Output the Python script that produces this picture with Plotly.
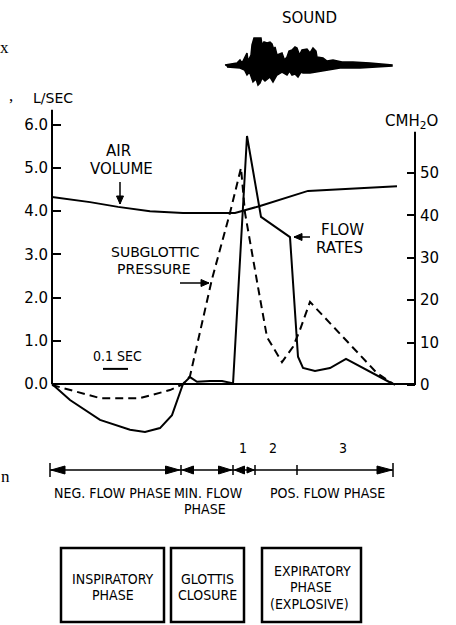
import plotly.graph_objects as go

# ---------------- data (time in seconds) ----------------
vol_t = [0, 0.152, 0.264, 0.392, 0.524, 0.732, 0.832, 1.024, 1.38]
air_volume = [4.33, 4.21, 4.10, 4.00, 3.96, 3.96, 4.12, 4.47, 4.58]          # L/SEC scale

flow_t = [0, 0.072, 0.192, 0.312, 0.372, 0.432, 0.48, 0.512, 0.524, 0.552, 0.58, 0.632,
          0.68, 0.72, 0.724, 0.78, 0.836, 0.952, 0.964, 0.984, 1.004, 1.052, 1.112, 1.176, 1.364]
flow_rate = [0, -0.37, -0.83, -1.06, -1.11, -1.02, -0.72, -0.21, 0, 0.16, 0.05, 0.07,
             0.07, 0.02, 0, 5.74, 3.87, 3.40, 2.41, 0.63, 0.37, 0.30, 0.37, 0.58, 0]       # L/SEC

press_t = [0, 0.192, 0.352, 0.472, 0.524, 0.552, 0.64, 0.712, 0.756, 0.772, 0.824, 0.86,
           0.92, 0.964, 0.992, 1.032, 1.30, 1.372]
subglottic = [0, -3.1, -3.1, -1.2, 0.2, 2.1, 25, 40.6, 51.2, 40.6, 23.1, 11.3,
              5.4, 9.0, 13, 19.6, 2.8, 0]                                        # CMH2O

snd_up_t = [0.692, 0.740, 0.752, 0.760, 0.772, 0.780, 0.784, 0.796, 0.800, 0.808, 0.836,
            0.840, 0.848, 0.860, 0.872, 0.880, 0.888, 0.892, 0.900, 0.920, 0.930, 0.940,
            0.948, 0.960, 0.972, 0.980, 0.990, 1.000, 1.020, 1.032, 1.044, 1.056, 1.060,
            1.084, 1.100, 1.124, 1.160, 1.204, 1.272, 1.360]
snd_up = [0, 2, 5, 2, 8, 12, 4, 10, 20, 27, 27, 20, 23, 22, 23, 21, 15, 18, 10, 12, 5, 8,
          14, 15, 18, 17, 10, 15, 16, 12, 17, 14, 8, 7, 4, 5, 3, 3, 2, 0]
snd_lo_t = [0.700, 0.752, 0.770, 0.780, 0.790, 0.804, 0.816, 0.824, 0.832, 0.840, 0.852,
            0.860, 0.872, 0.884, 0.892, 0.900, 0.920, 0.940, 0.950, 0.960, 0.972, 0.984,
            0.996, 1.004, 1.032, 1.060, 1.100, 1.152, 1.232, 1.360]
snd_lo = [-2, -3, -5, -10, -7, -17, -14, -20, -18, -13, -16, -15, -12, -17, -14, -10, -7,
          -10, -6, -10, -9, -12, -7, -8, -8, -7, -5, -3, -3, -1]

left_ticks = [0, 1, 2, 3, 4, 5, 6]
left_labels = ["0.0", "1.0", "2.0", "3.0", "4.0", "5.0", "6.0"]
right_ticks = [0, 10, 20, 30, 40, 50]
right_labels = ["0", "10", "20", "30", "40", "50"]

phase_edges = [-0.008, 0.516, 0.724, 0.812, 0.98, 1.364]
phase_nums = ["1", "2", "3"]
phase_num_t = [0.764, 0.884, 1.164]

# ---------------- layout helpers ----------------
W, H = 456, 625
def PX(x): return x / W
def PY(y): return 1 - y / H

T0_PX, PX_PER_S = 52, 250.0
def tpx(px): return (px - T0_PX) / PX_PER_S

FONT = "DejaVu Sans, Open Sans, sans-serif"
NARROW = "DejaVu Sans Condensed, Liberation Sans Narrow, Roboto Condensed, DejaVu Sans, sans-serif"

fig = go.Figure()

line = dict(color="black", width=2)
fig.add_trace(go.Scatter(x=vol_t, y=air_volume, mode="lines", line=line, xaxis="x", yaxis="y"))
fig.add_trace(go.Scatter(x=flow_t, y=flow_rate, mode="lines", line=line, xaxis="x", yaxis="y"))
fig.add_trace(go.Scatter(x=press_t, y=subglottic, mode="lines",
                         line=dict(color="black", width=2, dash="8px,5px"), xaxis="x", yaxis="y2"))
# sound envelope
fig.add_trace(go.Scatter(x=snd_up_t + snd_lo_t[::-1], y=snd_up + snd_lo[::-1], mode="lines",
                         fill="toself", fillcolor="black", line=dict(color="black", width=1.5),
                         xaxis="x", yaxis="y3"))
# 0.1 sec scale bar
fig.add_trace(go.Scatter(x=[0.204, 0.304], y=[0.35, 0.35], mode="lines", line=line,
                         xaxis="x", yaxis="y"))

dom_top, dom_bot = 105, 440
fig.update_layout(
    width=W, height=H, autosize=False, showlegend=False,
    margin=dict(l=0, r=0, t=0, b=0),
    paper_bgcolor="white", plot_bgcolor="white",
    xaxis=dict(domain=[PX(40), PX(432)], range=[tpx(40), tpx(432)], visible=False),
    yaxis=dict(domain=[PY(dom_bot), PY(dom_top)],
               range=[(384 - dom_bot) / 43.2, (384 - dom_top) / 43.2],
               anchor="free", position=PX(52), tickvals=left_ticks, ticktext=left_labels,
               ticks="inside", ticklen=8, tickwidth=2, tickcolor="black",
               showgrid=False, zeroline=False, showline=False, ticklabelstandoff=4,
               tickfont=dict(family=FONT, size=15, color="black")),
    yaxis2=dict(domain=[PY(dom_bot), PY(dom_top)], overlaying="y", side="right",
                range=[(385 - dom_bot) / 4.24, (385 - dom_top) / 4.24],
                anchor="free", position=PX(415), tickvals=right_ticks, ticktext=right_labels,
                ticks="inside", ticklen=8, tickwidth=2, tickcolor="black",
                showgrid=False, zeroline=False, showline=False, ticklabelstandoff=4,
                tickfont=dict(family=FONT, size=15, color="black")),
    yaxis3=dict(domain=[PY(95), PY(25)], range=[-30, 40], anchor="x", visible=False),
)

shapes = []
# axes lines and zero baseline
shapes.append(dict(type="line", xref="x", yref="y", x0=0, x1=0, y0=0, y1=6.35, line=dict(color="black", width=2)))
shapes.append(dict(type="line", xref="x", yref="y2", x0=tpx(415), x1=tpx(415), y0=0, y1=59.7, line=dict(color="black", width=2)))
shapes.append(dict(type="line", xref="x", yref="y", x0=0, x1=tpx(415), y0=0, y1=0, line=dict(color="black", width=2)))

# phase arrow row
yr = PY(470)
def ypx(d): return PY(470 + d)
shapes.append(dict(type="line", xref="x", yref="paper", x0=phase_edges[0], x1=phase_edges[-1], y0=yr, y1=yr,
                   line=dict(color="black", width=1.5)))
for i, e in enumerate(phase_edges):
    h = 7 if i in (0, len(phase_edges) - 1) else 5
    shapes.append(dict(type="line", xref="x", yref="paper", x0=e, x1=e, y0=ypx(-h), y1=ypx(h),
                       line=dict(color="black", width=1.5)))

def head(tip_t, length_px, half=4):
    base = tip_t + length_px / PX_PER_S
    return dict(type="path", xref="x", yref="paper",
                path=f"M {tip_t},{yr} L {base},{ypx(-half)} L {base},{ypx(half)} Z",
                fillcolor="black", line=dict(color="black", width=1))

shapes += [
    head(phase_edges[0] + 0.004, 14),
    head(phase_edges[1] - 0.006, -14),
    head(phase_edges[1] + 0.006, 11),
    head(phase_edges[2] - 0.006, -13),
    head(phase_edges[2] + 0.006, 10),
    head(phase_edges[3] - 0.004, -7, 3),
    head(phase_edges[5] - 0.004, -15),
]

# pointer arrows (paper-pixel geometry)
def pointer(x0, y0, x1, y1):
    shapes.append(dict(type="line", xref="paper", yref="paper", x0=PX(x0), y0=PY(y0), x1=PX(x1), y1=PY(y1),
                       line=dict(color="black", width=1.5)))
    dx, dy = x1 - x0, y1 - y0
    n = (dx * dx + dy * dy) ** 0.5
    ux, uy = dx / n, dy / n
    L, Hh = 8, 3.5
    bx, by = x1 - ux * L, y1 - uy * L
    px_, py_ = -uy * Hh, ux * Hh
    pts = [(x1, y1), (bx + px_, by + py_), (bx - px_, by - py_)]
    path = "M " + " L ".join(f"{PX(a)},{PY(b)}" for a, b in pts) + " Z"
    shapes.append(dict(type="path", xref="paper", yref="paper", path=path, fillcolor="black",
                       line=dict(color="black", width=1)))

pointer(120, 182, 120, 204)
pointer(180, 283, 209, 283)
pointer(310, 237, 294, 237)

# boxes
for x0, x1 in [(61, 164), (171, 244), (262, 361)]:
    shapes.append(dict(type="rect", xref="paper", yref="paper", x0=PX(x0), x1=PX(x1), y0=PY(622), y1=PY(548),
                       line=dict(color="black", width=2.5)))
fig.update_layout(shapes=shapes)

ann = []
def txt(s, x, y, size=14, family=FONT, **kw):
    ann.append(dict(text=s, x=PX(x), y=PY(y), xref="paper", yref="paper", showarrow=False,
                    xanchor="center", yanchor="middle", font=dict(family=family, size=size, color="black"), **kw))

txt("SOUND", 309, 18, 15)
txt("L/SEC", 53, 98, 14)
txt("CMH<sub>2</sub>O", 411, 121, 15)
txt("AIR", 119, 151, 15)
txt("VOLUME", 121, 169, 15)
txt("SUBGLOTTIC", 155, 252, 14)
txt("PRESSURE", 154, 269, 14)
txt("FLOW", 342, 230, 15)
txt("RATES", 339, 248, 15)
txt("0.1 SEC", 117, 356, 14, NARROW)
# scan artifacts on the left margin
txt("x", 4, 47, 17, "Liberation Serif, serif")
txt(",", 11, 96, 17, "Liberation Serif, serif")
txt("n", 5, 476, 17, "Liberation Serif, serif")

for s, t in zip(phase_nums, phase_num_t):
    ann.append(dict(text=s, x=t, y=PY(458), xref="x", yref="paper", showarrow=False,
                    font=dict(family=NARROW, size=14, color="black")))
txt("NEG. FLOW PHASE", 112, 493, 14, NARROW)
txt("MIN. FLOW", 208, 493, 14, NARROW)
txt("PHASE", 205, 509, 14, NARROW)
txt("POS. FLOW PHASE", 327, 493, 14, NARROW)
txt("INSPIRATORY", 113, 579, 14, NARROW)
txt("PHASE", 113, 595, 14, NARROW)
txt("GLOTTIS", 207, 579, 14, NARROW)
txt("CLOSURE", 207, 595, 14, NARROW)
txt("EXPIRATORY", 312, 571, 14, NARROW)
txt("PHASE", 311, 587, 14, NARROW)
txt("(EXPLOSIVE)", 309, 604, 14, NARROW)

fig.update_layout(annotations=ann)
fig.write_html("out.html", config={"displayModeBar": False},
               post_script="document.body.style.margin='0';")
